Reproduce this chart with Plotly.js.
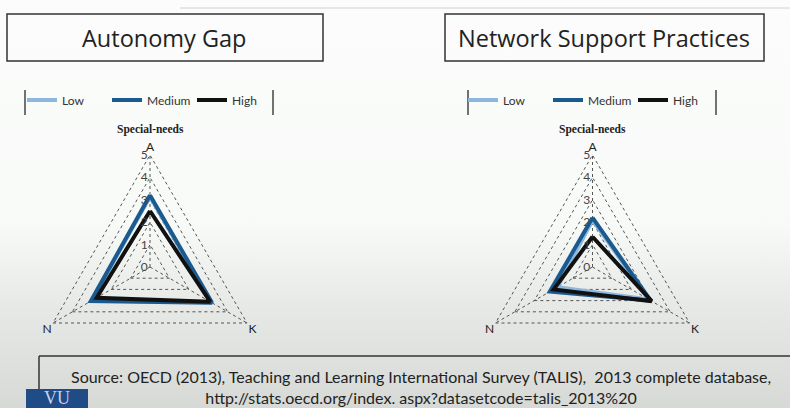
<!DOCTYPE html>
<html>
<head>
<meta charset="utf-8">
<script src="https://cdn.plot.ly/plotly-3.0.1.min.js"></script>
<style>
  html, body { margin: 0; padding: 0; }
  body {
    width: 790px; height: 408px; overflow: hidden;
    background: linear-gradient(to bottom, #fbfcfb 0%, #f8faf8 55%, #e6e9e5 75%, #d6d9d5 100%);
  }
  #chart { width: 790px; height: 408px; }
</style>
</head>
<body>
<div id="chart"></div>
<script>
// radar axes (A top, K bottom-right, N bottom-left)
const categories = ['A', 'K', 'N'];
const radialTicks = [0, 1, 2, 3, 4, 5];
const seriesNames = ['Low', 'Medium', 'High'];

// Autonomy Gap
const autonomyLow    = [3.15, 3.15, 3.0];
const autonomyMedium = [3.2, 3.2, 3.05];
const autonomyHigh   = [2.5, 3.1, 2.75];

// Network Support Practices
const networkLow    = [2.1, 2.9, 1.8];
const networkMedium = [2.2, 3.0, 2.2];
const networkHigh   = [1.35, 3.05, 2.0];

const colors = ['#8db7dc', '#1b5a90', '#111111'];
const W = 790, H = 408;
const rMax = 5.05; // a bit past 5 so the outer dotted triangle is drawn

function px(x) { return x / W; }
function py(y) { return 1 - y / H; }

function closed(arr) { return arr.concat(arr[0]); }

function makeTraces(values, polar, legend) {
    return values.map((v, i) => ({
        type: 'scatterpolar',
        r: closed(v),
        theta: closed(categories),
        mode: 'lines',
        name: seriesNames[i],
        subplot: polar,
        legend: legend,
        line: { color: colors[i], width: 4, shape: 'linear' },
        hoverinfo: 'skip'
    }));
}

const traces = []
    .concat(makeTraces([autonomyLow, autonomyMedium, autonomyHigh], 'polar', 'legend'))
    .concat(makeTraces([networkLow, networkMedium, networkHigh], 'polar2', 'legend2'));

function polarLayout(cx, cy, R5) {
    const R = R5 * rMax / 5;
    return {
        domain: { x: [px(cx - R), px(cx + R)], y: [py(cy + R), py(cy - R)] },
        bgcolor: 'rgba(0,0,0,0)',
        gridshape: 'linear',
        radialaxis: {
            range: [0, rMax], tickvals: radialTicks, angle: 90, tickangle: 90,
            side: 'counterclockwise',
            showline: false, ticks: '', gridcolor: '#555', griddash: 'dot', gridwidth: 1,
            tickfont: { family: 'Lato, sans-serif', size: 12, color: '#444' }
        },
        angularaxis: {
            direction: 'clockwise', rotation: 90, showline: false, ticks: '',
            gridcolor: '#555', griddash: 'dot', gridwidth: 1,
            tickfont: { family: 'Lato, sans-serif', size: 12, color: '#222' }
        }
    };
}

const legendFont = { family: 'Lato, sans-serif', size: 12, color: '#333' };

function legendLayout(x) {
    return {
        orientation: 'h', x: px(x), xanchor: 'left', y: py(100), yanchor: 'middle',
        bgcolor: 'rgba(0,0,0,0)', font: legendFont, entrywidth: 40, traceorder: 'normal'
    };
}

const lineCol = '#333';
const shapes = [
    // top rule
    { type: 'line', x0: 180, x1: 790, y0: 8, y1: 8, line: { color: '#d0d2d0', width: 1 } },
    // title boxes
    { type: 'rect', x0: 7, x1: 323, y0: 14, y1: 61, line: { color: lineCol, width: 1.5 } },
    { type: 'rect', x0: 445, x1: 764, y0: 14, y1: 61, line: { color: lineCol, width: 1.5 } },
    // legend bars
    { type: 'line', x0: 25, x1: 25, y0: 90, y1: 115, line: { color: '#444', width: 1.5 } },
    { type: 'line', x0: 273, x1: 273, y0: 90, y1: 115, line: { color: '#444', width: 1.5 } },
    { type: 'line', x0: 468, x1: 468, y0: 90, y1: 115, line: { color: '#444', width: 1.5 } },
    { type: 'line', x0: 716, x1: 716, y0: 90, y1: 115, line: { color: '#444', width: 1.5 } },
    // source box
    { type: 'line', x0: 39, x1: 790, y0: 356, y1: 356, line: { color: lineCol, width: 1.5 } },
    { type: 'line', x0: 39, x1: 39, y0: 356, y1: 390, line: { color: lineCol, width: 1.5 } },
    // logo block
    { type: 'rect', x0: 26, x1: 88, y0: 389, y1: 410, fillcolor: '#1f4b87', line: { width: 0 } }
].map(s => Object.assign({}, s, {
    xref: 'paper', yref: 'paper',
    x0: px(s.x0), x1: px(s.x1), y0: py(s.y0), y1: py(s.y1)
}));

function note(text, x, y, font, extra) {
    return Object.assign({
        text: text, x: px(x), y: py(y), xref: 'paper', yref: 'paper',
        showarrow: false, font: font, xanchor: 'center', yanchor: 'middle'
    }, extra || {});
}

const titleFont = { family: '"Open Sans", sans-serif', size: 23.5, color: '#222' };
const subFont = { family: '"Liberation Serif", serif', size: 11.5, color: '#222' };
const srcFont = { family: 'Lato, sans-serif', size: 16, color: '#222' };

const annotations = [
    note('Autonomy Gap', 164, 38, titleFont),
    note('Network Support Practices', 604, 38, titleFont),
    note('<b>Special-needs</b>', 150, 129, subFont),
    note('<b>Special-needs</b>', 592, 129, subFont),
    note('Source: OECD (2013), Teaching and Learning International Survey (TALIS),  2013 complete database,<br>http://stats.oecd.org/index. aspx?datasetcode=talis_2013%20',
         421, 387, srcFont),
    note('VU', 57, 398, { family: '"Liberation Serif", serif', size: 18, color: '#c9d2ea' })
];

const layout = {
    width: W, height: H,
    margin: { t: 0, l: 0, r: 0, b: 0 },
    paper_bgcolor: 'rgba(0,0,0,0)', plot_bgcolor: 'rgba(0,0,0,0)',
    showlegend: true,
    polar: polarLayout(150, 267, 112),
    polar2: polarLayout(592.5, 267, 112),
    legend: legendLayout(22),
    legend2: legendLayout(463),
    shapes: shapes,
    annotations: annotations
};

Plotly.newPlot('chart', traces, layout, { staticPlot: true, displayModeBar: false });
</script>
</body>
</html>
